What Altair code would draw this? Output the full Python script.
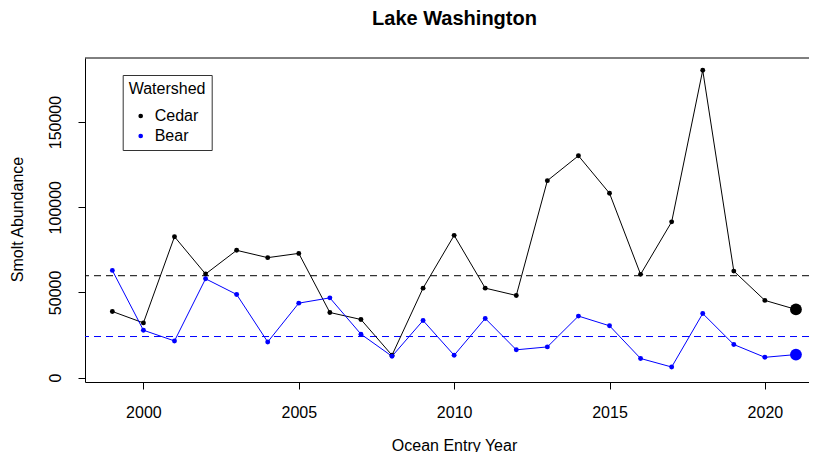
import altair as alt
import pandas as pd

# ---- data ----
years = list(range(1999, 2022))
cedar = [38800, 32100, 82700, 60800, 74700, 70400, 72900, 38200, 34100, 13100,
         52500, 83500, 52500, 48200, 115600, 130200, 108200, 60600, 91400, 180400,
         62500, 45300, 40000]
bear = [62900, 27800, 21500, 58000, 48800, 20900, 43700, 46800, 25500, 12500,
        33500, 13100, 34700, 16300, 18000, 36100, 30400, 11200, 6200, 37600,
        19400, 11900, 13500]
watersheds = ["Cedar", "Bear"]
colors = ["black", "blue"]
ref_values = [59800, 24100]
x_ticks = [2000, 2005, 2010, 2015, 2020]
y_ticks = [0, 50000, 100000, 150000]

W, H = 724, 324
FONT = "Liberation Sans"

rows = []
for name, vals in zip(watersheds, [cedar, bear]):
    for yr, v in zip(years, vals):
        rows.append({"Watershed": name, "Year": yr, "Abundance": v})
df = pd.DataFrame(rows)
last_df = df[df["Year"] == years[-1]]
ref_df = pd.DataFrame({"Watershed": watersheds, "Abundance": ref_values})
one_df = pd.DataFrame({"k": [0]})

x_scale = alt.Scale(domain=[1998.12, 2021.42], nice=False, zero=False)
y_scale = alt.Scale(domain=[-2600, 187600], nice=False, zero=False)

x_axis = alt.Axis(values=x_ticks, format="d", title="Ocean Entry Year", grid=False,
                  tickSize=7, labelPadding=15, labelBaseline="top",
                  titleX=369, titleY=68, titleAlign="center", titleBaseline="alphabetic")
y_axis = alt.Axis(values=y_ticks, format="d", title="Smolt Abundance", grid=False,
                  tickSize=7, labelAngle=270, labelAlign="center", labelBaseline="alphabetic",
                  labelPadding=18, titleAngle=270, titleX=-63, titleY=161,
                  titleAlign="center", titleBaseline="alphabetic")

X = alt.X("Year:Q", scale=x_scale, axis=x_axis)
Y = alt.Y("Abundance:Q", scale=y_scale, axis=y_axis)

lines = alt.Chart(df).mark_line(strokeWidth=1, fill=None).encode(
    x=X, y=Y,
    stroke=alt.Stroke("Watershed:N", scale=alt.Scale(domain=watersheds, range=colors), legend=None),
    detail="Watershed:N")

ref_layers = [
    alt.Chart(ref_df[ref_df["Watershed"] == name]).mark_rule(
        color=col, strokeWidth=1, strokeDash=[7, 5]).encode(
        y=alt.Y("Abundance:Q", scale=y_scale, axis=y_axis))
    for name, col in zip(watersheds, colors)
]

points = alt.Chart(df).mark_circle(size=24, opacity=1).encode(
    x=X, y=Y,
    color=alt.Color("Watershed:N", scale=alt.Scale(domain=watersheds, range=colors),
                    legend=alt.Legend(
                        title="Watershed", orient="none", legendX=37.7, legendY=17,
                        strokeColor="#333333", fillColor="white", padding=6,
                        titleFont=FONT, titleFontSize=16, titleFontWeight="normal",
                        titleColor="black", titlePadding=11, labelFont=FONT,
                        labelFontSize=16, labelColor="black", symbolType="circle",
                        symbolSize=22, symbolOffset=4, labelOffset=6, rowPadding=4)))

big = alt.Chart(last_df).mark_circle(size=140, opacity=1).encode(
    x=X, y=Y,
    fill=alt.Fill("Watershed:N", scale=alt.Scale(domain=watersheds, range=colors), legend=None))

top_frame = alt.Chart(one_df).mark_rule(color="black", strokeWidth=1).encode(
    x=alt.value(0), x2=alt.value(W), y=alt.value(0))

chart = alt.layer(*ref_layers, lines, points, big, top_frame).properties(
    width=W, height=H,
    title=alt.TitleParams("Lake Washington", font=FONT, fontSize=20, fontWeight="bold",
                          color="black", anchor="middle", baseline="alphabetic",
                          offset=13, dx=7.5),
    autosize=alt.AutoSizeParams(type="none"),
    padding={"left": 77, "top": 50, "right": 0, "bottom": 70},
).resolve_scale(color="independent", fill="independent", stroke="independent"
).configure(background="white"
).configure_view(stroke=None
).configure_axis(
    domainColor="black", tickColor="black", labelColor="black", titleColor="black",
    labelFont=FONT, titleFont=FONT, labelFontSize=16, titleFontSize=16,
    titleFontWeight="normal", domainWidth=1, tickWidth=1)

chart.save("out.html", embed_options={"renderer": "svg", "actions": False})
